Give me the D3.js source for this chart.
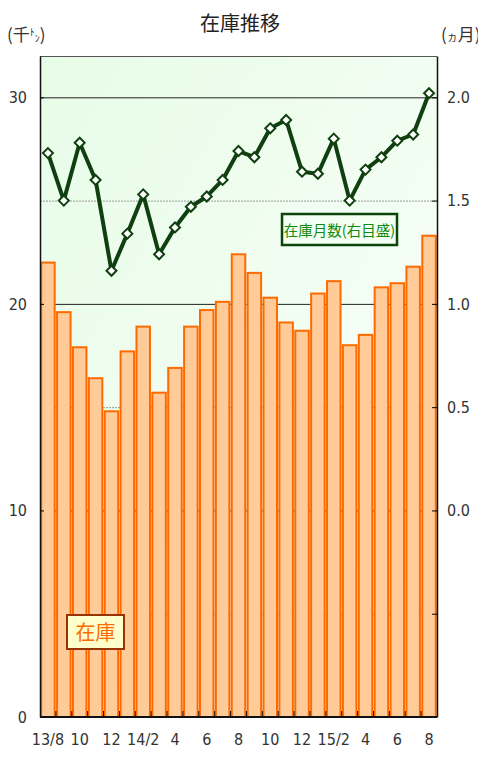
<!DOCTYPE html>
<html>
<head>
<meta charset="utf-8">
<script src="https://cdn.jsdelivr.net/npm/d3@7"></script>
<style>
  body { margin: 0; background: #fff; }
  svg text { font-family: "Liberation Sans Narrow", "DejaVu Sans Condensed", "Liberation Sans", sans-serif; }
  .jp { font-family: "Noto Sans CJK JP", sans-serif !important; }
</style>
</head>
<body>
<div id="chart"></div>
<script>
// months Aug 2013 - Aug 2015
var months = ["13/8","13/9","13/10","13/11","13/12","14/1","14/2","14/3","14/4","14/5","14/6","14/7","14/8",
              "14/9","14/10","14/11","14/12","15/1","15/2","15/3","15/4","15/5","15/6","15/7","15/8"];
var xLabels = ["13/8","","10","","12","","14/2","","4","","6","","8",
               "","10","","12","","15/2","","4","","6","","8"];
// 在庫 (千トン)
var stock = [22.0,19.6,17.9,16.4,14.8,17.7,18.9,15.7,16.9,18.9,19.7,20.1,22.4,
             21.5,20.3,19.1,18.7,20.5,21.1,18.0,18.5,20.8,21.0,21.8,23.3];
// 在庫月数 (ヵ月)
var monthsOfStock = [1.73,1.50,1.78,1.60,1.16,1.34,1.53,1.24,1.37,1.47,1.52,1.60,1.74,
                     1.71,1.85,1.89,1.64,1.63,1.80,1.50,1.65,1.71,1.79,1.82,2.02];
var leftTicks = [0, 10, 20, 30];
var gridValues = [5, 10, 15, 20, 25, 30];
var rightTicks = [-0.5, 0, 0.5, 1.0, 1.5, 2.0];

var w = 478, h = 764;
var margin = {top: 56, right: 41, bottom: 47, left: 40};
var width = w - margin.left - margin.right,
    height = h - margin.top - margin.bottom;

var svg = d3.select("#chart").append("svg")
    .attr("width", w)
    .attr("height", h);

var defs = svg.append("defs");
var grad = defs.append("linearGradient")
    .attr("id", "bg").attr("x1", "0").attr("y1", "0").attr("x2", "1").attr("y2", "1");
grad.append("stop").attr("offset", "0%").attr("stop-color", "#e7fce7");
grad.append("stop").attr("offset", "100%").attr("stop-color", "#fcfffc");

var x = d3.scaleBand()
    .domain(months)
    .range([0, width])
    .paddingInner(0.15)
    .paddingOuter(0.075);

var yL = d3.scaleLinear().domain([0, 32]).range([height, 0]);
var yR = d3.scaleLinear().domain([-1, 2.2]).range([height, 0]);

// title & units
svg.append("text").attr("class", "jp")
    .attr("x", 240).attr("y", 31)
    .attr("text-anchor", "middle")
    .attr("font-size", 20).attr("fill", "#222")
    .text("在庫推移");

var ul = svg.append("text").attr("class", "jp")
    .attr("x", 7).attr("y", 41).attr("font-size", 17).attr("fill", "#333");
ul.append("tspan").text("(千");
ul.append("tspan").attr("font-size", 10).attr("dy", -5).text("ﾄ");
ul.append("tspan").attr("font-size", 10).attr("dy", 6).text("ﾝ");
ul.append("tspan").attr("dy", -1).text(")");

var ur = svg.append("text").attr("class", "jp")
    .attr("x", 441).attr("y", 41).attr("font-size", 17).attr("fill", "#333");
ur.append("tspan").text("(");
ur.append("tspan").attr("font-size", 11).text("ヵ");
ur.append("tspan").text("月)");

var g = svg.append("g").attr("transform", "translate(" + margin.left + "," + margin.top + ")");

g.append("rect")
    .attr("width", width).attr("height", height)
    .attr("fill", "url(#bg)");

// gridlines
g.selectAll(".grid")
    .data(gridValues)
    .enter().append("line")
    .attr("x1", 0).attr("x2", width)
    .attr("y1", function(d) { return yL(d) + 0.5; })
    .attr("y2", function(d) { return yL(d) + 0.5; })
    .attr("stroke", function(d) { return d % 10 == 0 ? "#222" : "#999"; })
    .attr("stroke-width", 1)
    .attr("stroke-dasharray", function(d) { return d % 10 == 0 ? null : "2,1"; });

// top border
g.append("line")
    .attr("x1", 0).attr("x2", width).attr("y1", 0.5).attr("y2", 0.5)
    .attr("stroke", "#555");

// bars
g.selectAll(".bar")
    .data(stock)
    .enter().append("rect")
    .attr("x", function(d, i) { return x(months[i]); })
    .attr("y", function(d) { return yL(d); })
    .attr("width", x.bandwidth())
    .attr("height", function(d) { return height - yL(d); })
    .attr("fill", "#ffcc99")
    .attr("stroke", "#ff6a00")
    .attr("stroke-width", 2);

// line
var line = d3.line()
    .x(function(d, i) { return x(months[i]) + x.bandwidth() / 2; })
    .y(function(d) { return yR(d); });

g.append("path")
    .datum(monthsOfStock)
    .attr("fill", "none")
    .attr("stroke", "#103f10")
    .attr("stroke-width", 4)
    .attr("stroke-linejoin", "round")
    .attr("d", line);

g.selectAll(".pt")
    .data(monthsOfStock)
    .enter().append("path")
    .attr("transform", function(d, i) {
        return "translate(" + (x(months[i]) + x.bandwidth() / 2) + "," + yR(d) + ")";
    })
    .attr("d", "M0,-5L5,0L0,5L-5,0Z")
    .attr("fill", "#fff")
    .attr("stroke", "#103f10")
    .attr("stroke-width", 2);

// axes
var axL = g.append("g")
    .call(d3.axisLeft(yL).tickValues(leftTicks).tickSizeInner(-4).tickSizeOuter(0).tickPadding(13));
axL.select(".domain").attr("stroke", "#111").attr("stroke-width", 1.5);
axL.selectAll("text").attr("font-size", 16).attr("fill", "#333");

var axR = g.append("g")
    .attr("transform", "translate(" + width + ",0)")
    .call(d3.axisRight(yR).tickValues(rightTicks).tickSizeInner(-5).tickSizeOuter(0).tickPadding(10)
        .tickFormat(function(d) { return d < 0 ? "" : d3.format(".1f")(d); }));
axR.select(".domain").attr("stroke", "#111").attr("stroke-width", 1.5);
axR.selectAll("text").attr("font-size", 16).attr("fill", "#333");

var axB = g.append("g")
    .attr("transform", "translate(0," + height + ")")
    .call(d3.axisBottom(x).tickSize(0).tickPadding(17)
        .tickFormat(function(d, i) { return xLabels[i]; }));
axB.select(".domain").remove();
axB.selectAll("text").attr("font-size", 16).attr("fill", "#333");

g.append("line")
    .attr("x1", 0).attr("x2", width).attr("y1", height).attr("y2", height)
    .attr("stroke", "#111").attr("stroke-width", 2);

g.selectAll(".xtick")
    .data(months.slice(1))
    .enter().append("line")
    .attr("x1", function(d) { return x(d) - (x.step() - x.bandwidth()) / 2; })
    .attr("x2", function(d) { return x(d) - (x.step() - x.bandwidth()) / 2; })
    .attr("y1", height).attr("y2", height - 6)
    .attr("stroke", "#111");

// legends
var lg1 = svg.append("g").attr("transform", "translate(282,214)");
lg1.append("rect").attr("width", 115).attr("height", 31)
    .attr("fill", "#f2fff2").attr("stroke", "#0b450b").attr("stroke-width", 2.5);
lg1.append("text").attr("class", "jp")
    .attr("x", 57.5).attr("y", 21.5).attr("text-anchor", "middle")
    .attr("font-size", 14.5).attr("fill", "#118a11")
    .text("在庫月数(右目盛)");

var lg2 = svg.append("g").attr("transform", "translate(67,615)");
lg2.append("rect").attr("width", 57).attr("height", 34)
    .attr("fill", "#ffffcc").attr("stroke", "#993300").attr("stroke-width", 2);
lg2.append("text").attr("class", "jp")
    .attr("x", 28.5).attr("y", 24.5).attr("text-anchor", "middle")
    .attr("font-size", 20).attr("fill", "#ff6a00")
    .text("在庫");
</script>
</body>
</html>
